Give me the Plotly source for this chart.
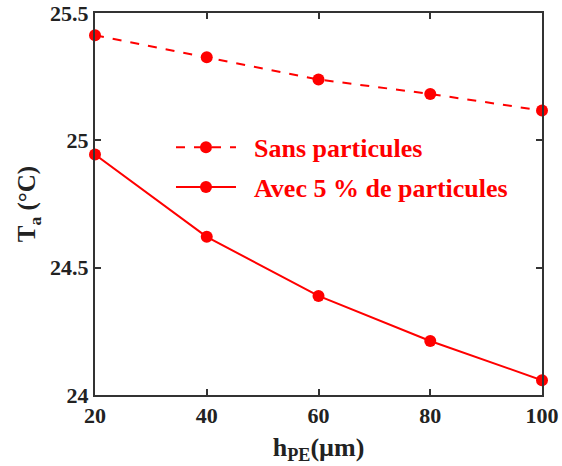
import plotly.graph_objects as go

h_pe = [20, 40, 60, 80, 100]
sans = [25.413, 25.326, 25.239, 25.182, 25.117]
avec = [24.944, 24.621, 24.389, 24.212, 24.058]
names = ["Sans particules", "Avec 5 % de particules"]

FONT = "Liberation Serif, Times New Roman, serif"
NB = "\u00a0\u00a0"
fig = go.Figure()
fig.add_trace(go.Scatter(x=h_pe, y=sans, mode="lines+markers", name=NB + names[0], legendgroup="a",
                         line=dict(color="#ff0000", width=2, dash="dash"),
                         marker=dict(color="#ff0000", size=12), cliponaxis=False))
fig.add_trace(go.Scatter(x=h_pe, y=avec, mode="lines+markers", name=NB + names[1], legendgroup="b",
                         line=dict(color="#ff0000", width=2),
                         marker=dict(color="#ff0000", size=12), cliponaxis=False))

axis_common = dict(showline=True, linecolor="#333333", linewidth=2, mirror="ticks",
                   ticks="inside", ticklen=6, tickcolor="#333333", tickwidth=1.5,
                   showgrid=False, zeroline=False, ticklabeloverflow="allow",
                   tickfont=dict(family=FONT, size=22, color="#222222", weight="bold"))
fig.update_layout(
    width=562, height=466,
    margin=dict(l=95, r=20, t=13, b=71),
    paper_bgcolor="white", plot_bgcolor="white",
    font=dict(family=FONT, size=22, color="#222222"),
    xaxis=dict(range=[20, 100], tickvals=[20, 40, 60, 80, 100],
               title=dict(text="h<sub>PE</sub>(µm)", font=dict(family=FONT, size=26, weight="bold"), standoff=10),
               automargin=False, **axis_common),
    yaxis=dict(range=[24, 25.5], tickvals=[24, 24.5, 25, 25.5], ticktext=["24", "24.5", "25", "25.5"],
               title=dict(text="T<sub>a</sub> (°C)", font=dict(family=FONT, size=25, weight="bold"), standoff=7),
               automargin=False, **axis_common),
    legend=dict(x=0.17, y=0.71, xanchor="left", yanchor="top", bgcolor="rgba(0,0,0,0)",
                font=dict(family=FONT, size=26, color="#ff0000", weight="bold"), itemwidth=60,
                tracegroupgap=3),
    showlegend=True,
)
fig.write_html("out.html", config={"displayModeBar": False},
               post_script="document.body.style.margin='0px';")
